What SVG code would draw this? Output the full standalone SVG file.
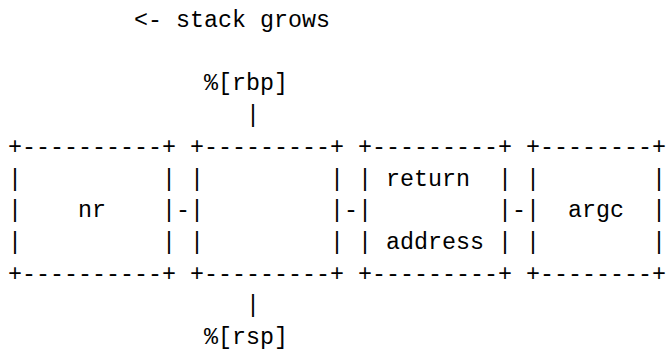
<svg xmlns="http://www.w3.org/2000/svg" width="666" height="351" viewBox="0 0 666 351">
<style>
.t { font-family: "Liberation Mono", "DejaVu Sans Mono", monospace; font-size: 23.33px; fill: #000; white-space: pre; }
</style>
<rect width="666" height="351" fill="#fff"/>
<g transform="translate(-2,0)">
<g id="caption">
<text class="t" x="136" y="27" xml:space="preserve">&lt;- stack grows</text>
</g>
<g id="rbp-pointer">
<text class="t" x="206" y="90">%[rbp]</text>
<text class="t" x="248" y="122">|</text>
</g>
<g id="node-nr">
<text class="t" x="10" y="154">+----------+</text>
<text class="t" x="10" y="185.5">|</text><text class="t" x="164" y="185.5">|</text>
<text class="t" x="10" y="217">|</text><text class="t" x="164" y="217">|</text>
<text class="t" x="10" y="249">|</text><text class="t" x="164" y="249">|</text>
<text class="t" x="10" y="280.6">+----------+</text>
<text class="t" x="80" y="217">nr</text>
</g>
<g id="node-empty">
<text class="t" x="192" y="154">+---------+</text>
<text class="t" x="192" y="185.5">|</text><text class="t" x="332" y="185.5">|</text>
<text class="t" x="192" y="217">|</text><text class="t" x="332" y="217">|</text>
<text class="t" x="192" y="249">|</text><text class="t" x="332" y="249">|</text>
<text class="t" x="192" y="280.6">+---------+</text>
</g>
<g id="node-return-address">
<text class="t" x="360" y="154">+---------+</text>
<text class="t" x="360" y="185.5">|</text><text class="t" x="500" y="185.5">|</text>
<text class="t" x="360" y="217">|</text><text class="t" x="500" y="217">|</text>
<text class="t" x="360" y="249">|</text><text class="t" x="500" y="249">|</text>
<text class="t" x="360" y="280.6">+---------+</text>
<text class="t" x="388" y="185.5">return</text>
<text class="t" x="388" y="249">address</text>
</g>
<g id="node-argc">
<text class="t" x="528" y="154">+--------+</text>
<text class="t" x="528" y="185.5">|</text><text class="t" x="654" y="185.5">|</text>
<text class="t" x="528" y="217">|</text><text class="t" x="654" y="217">|</text>
<text class="t" x="528" y="249">|</text><text class="t" x="654" y="249">|</text>
<text class="t" x="528" y="280.6">+--------+</text>
<text class="t" x="570" y="217">argc</text>
</g>
<g id="connectors">
<text class="t" x="178" y="217">-</text>
<text class="t" x="346" y="217">-</text>
<text class="t" x="514" y="217">-</text>
</g>
<g id="rsp-pointer">
<text class="t" x="248" y="312">|</text>
<text class="t" x="206" y="344">%[rsp]</text>
</g>
</g>
</svg>
